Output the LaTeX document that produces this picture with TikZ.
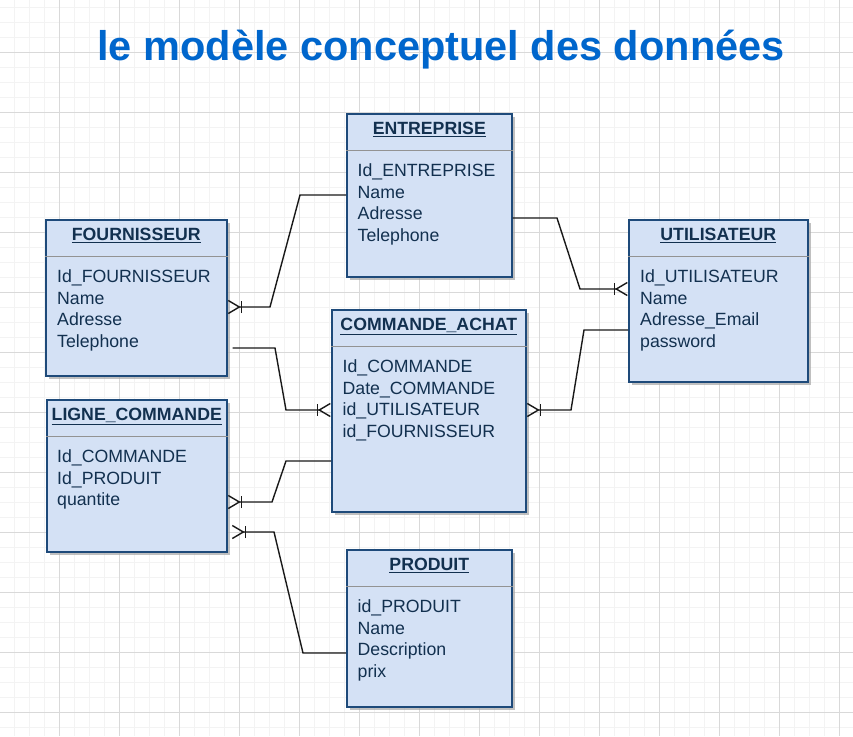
\documentclass[tikz,border=0pt]{standalone}
\usepackage{fontspec}
\setmainfont{Liberation Sans}
\usetikzlibrary{arrows.meta,shadows}
\definecolor{boxfill}{HTML}{D4E1F5}
\definecolor{boxline}{HTML}{1E4A7A}
\definecolor{navytext}{HTML}{12304F}
\definecolor{titleblue}{HTML}{0066CC}
\definecolor{gridminor}{HTML}{F3F3F3}
\definecolor{gridmajor}{HTML}{D9D9D9}
\tikzset{
  entity/.style={draw=boxline, line width=1.6pt, fill=boxfill, rectangle, anchor=north west, inner sep=0pt,
    drop shadow={shadow xshift=3pt, shadow yshift=-3pt, fill=black!35, opacity=0.7}},
  etitle/.style={anchor=base, inner sep=0pt, text=navytext, font=\fontsize{17.7}{21.5}\selectfont\bfseries},
  attrs/.style={anchor=north west, inner sep=0pt, align=left, text=navytext, font=\fontsize{17.7}{21.5}\selectfont},
  sepline/.style={draw=gray!85, line width=0.9pt},
  rel/.style={draw=black!90, line width=1.4pt},
  many/.style={-{Bar[width=12pt] Straight Barb[reversed,length=11pt,width=13pt]}}
}

\begin{document}
\begin{tikzpicture}[x=1pt, y=-1pt]
            \useasboundingbox (0,0) rectangle (853,736);
            % grid
            \begin{scope}
            \clip (0,0) rectangle (853,736);
            \fill[white] (0,0) rectangle (853,736);
            \foreach \gx in {14.3,29.3,...,853} \draw[gridminor, line width=1.5pt] (\gx,0) -- (\gx,736);
            \foreach \gy in {7.3,22.3,...,736} \draw[gridminor, line width=1.5pt] (0,\gy) -- (853,\gy);
            \foreach \gx in {59.3,119.3,...,853} \draw[gridmajor, line width=1pt] (\gx,0) -- (\gx,736);
            \foreach \gy in {52.3,112.3,...,736} \draw[gridmajor, line width=1pt] (0,\gy) -- (853,\gy);
            \end{scope}

            \node[anchor=base, inner sep=0pt, text=titleblue, font=\fontsize{41.5}{48}\selectfont\bfseries] (title) at (441,60) {le modèle conceptuel des données};

            % ENTREPRISE
            \node[entity, minimum width=165pt, minimum height=163pt] (entreprise) at (346,113) {};
            \node[etitle] (entreprise-t) at ([yshift=-21.5pt]entreprise.north) {\underline{ENTREPRISE}};
            \draw[sepline] ([yshift=-37pt]entreprise.north west) -- ([yshift=-37pt]entreprise.north east);
            \node[attrs] (entreprise-a) at ([xshift=11.5pt,yshift=-50.5pt]entreprise.north west) {Id\_ENTREPRISE\\Name\\Adresse\\Telephone};

            % FOURNISSEUR
            \node[entity, minimum width=181pt, minimum height=156pt] (fournisseur) at (45,219) {};
            \node[etitle] (fournisseur-t) at ([yshift=-21.5pt]fournisseur.north) {\underline{FOURNISSEUR}};
            \draw[sepline] ([yshift=-37pt]fournisseur.north west) -- ([yshift=-37pt]fournisseur.north east);
            \node[attrs] (fournisseur-a) at ([xshift=12pt,yshift=-50.5pt]fournisseur.north west) {Id\_FOURNISSEUR\\Name\\Adresse\\Telephone};

            % UTILISATEUR
            \node[entity, minimum width=179pt, minimum height=162pt] (utilisateur) at (628,219) {};
            \node[etitle] (utilisateur-t) at ([yshift=-21.5pt]utilisateur.north) {\underline{UTILISATEUR}};
            \draw[sepline] ([yshift=-37pt]utilisateur.north west) -- ([yshift=-37pt]utilisateur.north east);
            \node[attrs] (utilisateur-a) at ([xshift=12pt,yshift=-50.5pt]utilisateur.north west) {Id\_UTILISATEUR\\Name\\Adresse\_Email\\password};

            % COMMANDE_ACHAT
            \node[entity, minimum width=194pt, minimum height=202pt] (commande) at (331,309) {};
            \node[etitle] (commande-t) at ([yshift=-21.5pt]commande.north) {\underline{COMMANDE\_ACHAT}};
            \draw[sepline] ([yshift=-37pt]commande.north west) -- ([yshift=-37pt]commande.north east);
            \node[attrs] (commande-a) at ([xshift=11.5pt,yshift=-50.5pt]commande.north west) {Id\_COMMANDE\\Date\_COMMANDE\\id\_UTILISATEUR\\id\_FOURNISSEUR};

            % LIGNE_COMMANDE
            \node[entity, minimum width=180pt, minimum height=152pt] (ligne) at (46,399) {};
            \node[etitle] (ligne-t) at ([yshift=-21.5pt]ligne.north) {\underline{LIGNE\_COMMANDE}};
            \draw[sepline] ([yshift=-37pt]ligne.north west) -- ([yshift=-37pt]ligne.north east);
            \node[attrs] (ligne-a) at ([xshift=11pt,yshift=-50.5pt]ligne.north west) {Id\_COMMANDE\\Id\_PRODUIT\\quantite};

            % PRODUIT
            \node[entity, minimum width=165pt, minimum height=157pt] (produit) at (346,549) {};
            \node[etitle] (produit-t) at ([yshift=-21.5pt]produit.north) {\underline{PRODUIT}};
            \draw[sepline] ([yshift=-37pt]produit.north west) -- ([yshift=-37pt]produit.north east);
            \node[attrs] (produit-a) at ([xshift=11.5pt,yshift=-50.5pt]produit.north west) {id\_PRODUIT\\Name\\Description\\prix};

            % relations
            \draw[rel, many] (entreprise.west |- 0,195) -- (300,195) -- (270,307) -- (fournisseur.east |- 0,307);
            \draw[rel, many] (entreprise.east |- 0,218) -- (557,218) -- (580,289) -- (utilisateur.west |- 0,289);
            \draw[rel, many, shorten <=5pt] (fournisseur.east |- 0,348) -- (275,348) -- (286,410) -- (commande.west |- 0,410);
            \draw[rel, many] (utilisateur.west |- 0,330) -- (584,330) -- (571,410) -- (commande.east |- 0,410);
            \draw[rel, many] (commande.west |- 0,461) -- (286,461) -- (272,502) -- (ligne.east |- 0,502);
            \draw[rel, many, shorten >=4pt] (produit.west |- 0,653) -- (303,653) -- (274,532) -- (ligne.east |- 0,532);

\end{tikzpicture}
\end{document}
